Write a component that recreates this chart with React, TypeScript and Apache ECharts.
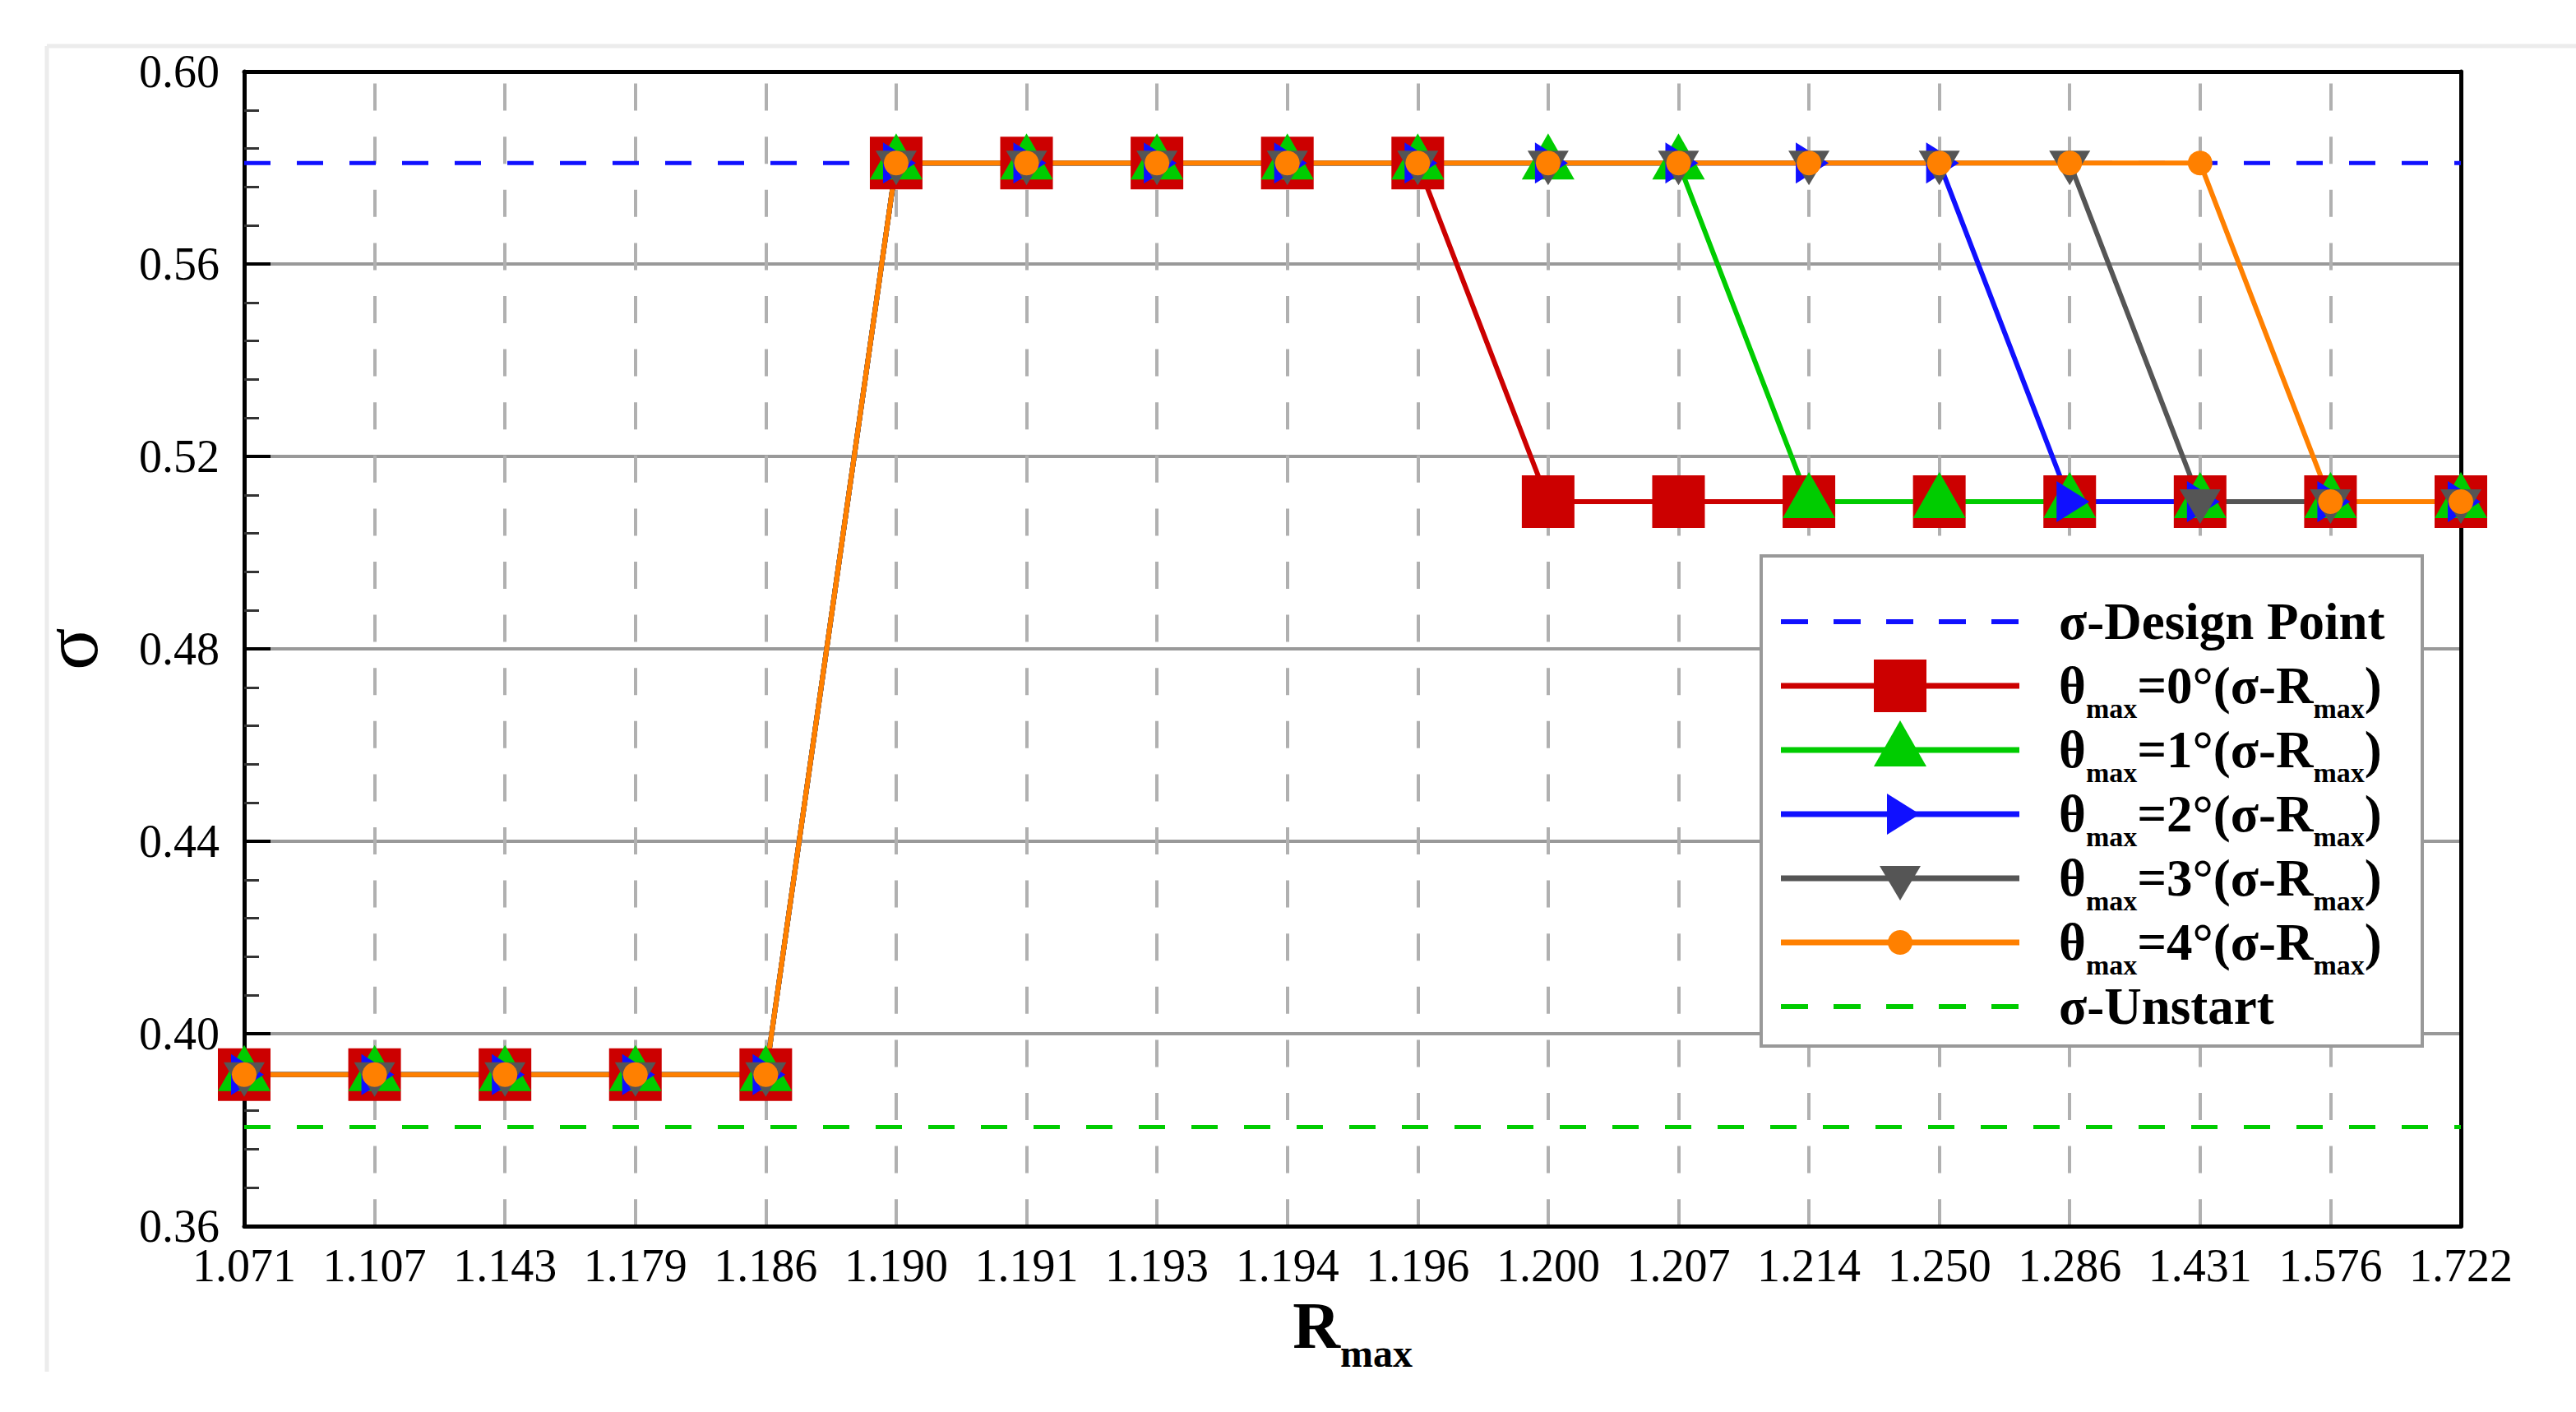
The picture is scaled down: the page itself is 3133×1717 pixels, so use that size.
import React, { useEffect, useRef } from "react";
import * as echarts from "echarts";

// ---------- data ----------
const categories = [
  "1.071", "1.107", "1.143", "1.179", "1.186", "1.190", "1.191", "1.193", "1.194",
  "1.196", "1.200", "1.207", "1.214", "1.250", "1.286", "1.431", "1.576", "1.722",
];

const theta0 = [0.3915, 0.3915, 0.3915, 0.3915, 0.3915, 0.581, 0.581, 0.581, 0.581, 0.581, 0.5106, 0.5106, 0.5106, 0.5106, 0.5106, 0.5106, 0.5106, 0.5106];
const theta1 = [0.3915, 0.3915, 0.3915, 0.3915, 0.3915, 0.581, 0.581, 0.581, 0.581, 0.581, 0.581, 0.581, 0.5106, 0.5106, 0.5106, 0.5106, 0.5106, 0.5106];
const theta2 = [0.3915, 0.3915, 0.3915, 0.3915, 0.3915, 0.581, 0.581, 0.581, 0.581, 0.581, 0.581, 0.581, 0.581, 0.581, 0.5106, 0.5106, 0.5106, 0.5106];
const theta3 = [0.3915, 0.3915, 0.3915, 0.3915, 0.3915, 0.581, 0.581, 0.581, 0.581, 0.581, 0.581, 0.581, 0.581, 0.581, 0.581, 0.5106, 0.5106, 0.5106];
const theta4 = [0.3915, 0.3915, 0.3915, 0.3915, 0.3915, 0.581, 0.581, 0.581, 0.581, 0.581, 0.581, 0.581, 0.581, 0.581, 0.581, 0.581, 0.5106, 0.5106];

// horizontal reference levels (constant across all categories)
const designPoint = [0.581, 0.581, 0.581, 0.581, 0.581, 0.581, 0.581, 0.581, 0.581, 0.581, 0.581, 0.581, 0.581, 0.581, 0.581, 0.581, 0.581, 0.581];
const unstart = [0.3806, 0.3806, 0.3806, 0.3806, 0.3806, 0.3806, 0.3806, 0.3806, 0.3806, 0.3806, 0.3806, 0.3806, 0.3806, 0.3806, 0.3806, 0.3806, 0.3806, 0.3806];

const yMin = 0.36;
const yMax = 0.6;
const yStep = 0.04;

const thetaDegrees = ["0", "1", "2", "3", "4"];

// ---------- names ----------
const NAME_DESIGN = "σ-Design Point";
const NAME_UNSTART = "σ-Unstart";
const thetaNames = thetaDegrees.map((d) => `θmax=${d}°(σ-Rmax)`);
const thetaData = [theta0, theta1, theta2, theta3, theta4];

// ---------- styles ----------
const FONT = "Liberation Serif";
const RED = "#cc0000";
const GREEN = "#00cc00";
const BLUE = "#1010ff";
const GRAY = "#555555";
const ORANGE = "#ff8000";

const thetaStyles = [
  { color: RED, symbol: "rect", size: [64, 64], rotate: 0, offset: [0, 0] },
  { color: GREEN, symbol: "triangle", size: [64, 56], rotate: 0, offset: [0, -8] },
  { color: BLUE, symbol: "triangle", size: [50, 40], rotate: -90, offset: [4, 0] },
  { color: GRAY, symbol: "triangle", size: [50, 42], rotate: 180, offset: [0, 6] },
  { color: ORANGE, symbol: "circle", size: [30, 30], rotate: 0, offset: [0, 0] },
];

const GRID = { left: 297, right: 140, top: 87, bottom: 226 };

// legend layout
const LEG_BOX = { x: 2142, y: 676, w: 804, h: 596 };
const LEG_X0 = 2166;
const LEG_X1 = 2456;
const LEG_CX = 2311;
const LEG_ROW0 = 756;
const LEG_STEP = 78;
const LEG_ITEM_H = 100;

function legendLabel(name: string): string {
  if (name.startsWith("θ")) {
    const deg = name.charAt(5);
    return `{t|θ}{s|max}{t|=${deg}°(σ-R}{s|max}{t|)}`;
  }
  return `{t|${name}}`;
}

function legendSample(i: number, kind: string, color: string, dashed: boolean): any[] {
  const cy = LEG_ROW0 + i * LEG_STEP;
  const els: any[] = [
    {
      type: "line",
      z: 6,
      shape: { x1: LEG_X0, y1: cy, x2: LEG_X1, y2: cy },
      style: { stroke: color, lineWidth: dashed ? 6 : 7, lineDash: dashed ? [33, 31] : null },
    },
  ];
  const cx = LEG_CX;
  if (kind === "rect") {
    els.push({ type: "rect", z: 7, shape: { x: cx - 32, y: cy - 32, width: 64, height: 64 }, style: { fill: color } });
  } else if (kind === "up") {
    els.push({ type: "polygon", z: 7, shape: { points: [[cx, cy - 36], [cx + 32, cy + 20], [cx - 32, cy + 20]] }, style: { fill: color } });
  } else if (kind === "right") {
    els.push({ type: "polygon", z: 7, shape: { points: [[cx + 24, cy], [cx - 16, cy - 25], [cx - 16, cy + 25]] }, style: { fill: color } });
  } else if (kind === "down") {
    els.push({ type: "polygon", z: 7, shape: { points: [[cx, cy + 27], [cx + 25, cy - 15], [cx - 25, cy - 15]] }, style: { fill: color } });
  } else if (kind === "circle") {
    els.push({ type: "circle", z: 7, shape: { cx, cy, r: 15 }, style: { fill: color } });
  }
  return els;
}

export default function App() {
  const ref = useRef<HTMLDivElement>(null);

  useEffect(() => {
    if (!ref.current) return;
    const chart = echarts.init(ref.current, null, { renderer: "svg" });

    const dashedSeries = (name: string, data: number[], color: string) => ({
      name,
      type: "line",
      data,
      z: 1,
      symbol: "none",
      silent: true,
      lineStyle: { color, width: 5, type: [32, 32] },
      itemStyle: { color },
      emphasis: { disabled: true },
    });

    const thetaSeries = thetaNames.map((name, i) => {
      const st = thetaStyles[i];
      return {
        name,
        type: "line",
        data: thetaData[i],
        z: 2,
        symbol: st.symbol,
        symbolSize: st.size,
        symbolRotate: st.rotate,
        symbolOffset: st.offset,
        showAllSymbol: true,
        lineStyle: { color: st.color, width: 6 },
        itemStyle: { color: st.color },
        emphasis: { disabled: true },
      };
    });

    const kinds = ["rect", "up", "right", "down", "circle"];
    const graphics: any[] = [
      // faint outer frame
      { type: "line", z: 0, shape: { x1: 57, y1: 56, x2: 3133, y2: 56 }, style: { stroke: "#ececec", lineWidth: 5 } },
      { type: "line", z: 0, shape: { x1: 57, y1: 56, x2: 57, y2: 1668 }, style: { stroke: "#ececec", lineWidth: 5 } },
      // legend box
      {
        type: "rect",
        z: 5,
        shape: { x: LEG_BOX.x, y: LEG_BOX.y, width: LEG_BOX.w, height: LEG_BOX.h },
        style: { fill: "#ffffff", stroke: "#999999", lineWidth: 4 },
      },
      ...legendSample(0, "none", BLUE, true),
      ...thetaStyles.flatMap((st, i) => legendSample(i + 1, kinds[i], st.color, false)),
      ...legendSample(6, "none", GREEN, true),
    ];

    const option: any = {
      animation: false,
      backgroundColor: "#ffffff",
      grid: { ...GRID, containLabel: false },
      xAxis: [
        {
          type: "category",
          data: categories,
          boundaryGap: false,
          z: 1,
          axisLine: { show: true, lineStyle: { color: "#000", width: 5 } },
          axisTick: { show: false },
          axisLabel: { interval: 0, margin: 20, color: "#000", fontFamily: FONT, fontSize: 56 },
          splitLine: {
            show: true,
            interval: (index: number) => index !== 0 && index !== categories.length - 1,
            lineStyle: { color: "#b0b0b0", width: 4, type: [33, 31.6], dashOffset: 50 },
          },
          name: "{r|R}{s|max}",
          nameLocation: "middle",
          nameGap: 72,
          nameTextStyle: {
            rich: {
              r: { fontFamily: FONT, fontSize: 80, fontWeight: "bold", lineHeight: 80, color: "#000" },
              s: {
                fontFamily: FONT,
                fontSize: 48,
                fontWeight: "bold",
                lineHeight: 80,
                verticalAlign: "top",
                padding: [50, 0, 0, 0],
                color: "#000",
              },
            },
          },
        },
        {
          type: "category",
          data: categories,
          boundaryGap: false,
          position: "top",
          z: 1,
          axisLine: { show: true, lineStyle: { color: "#000", width: 5 } },
          axisTick: { show: false },
          axisLabel: { show: false },
          splitLine: { show: false },
        },
      ],
      yAxis: [
        {
          type: "value",
          min: yMin,
          max: yMax,
          interval: yStep,
          z: 0,
          axisLine: { show: true, lineStyle: { color: "#000", width: 5 } },
          axisTick: { show: true, inside: true, length: 32, lineStyle: { color: "#000", width: 4 } },
          minorTick: { show: true, splitNumber: 5, length: 18, lineStyle: { color: "#333", width: 3 } },
          axisLabel: {
            margin: 30,
            color: "#000",
            fontFamily: FONT,
            fontSize: 56,
            formatter: (v: number) => v.toFixed(2),
          },
          splitLine: { show: true, lineStyle: { color: "#999999", width: 4 } },
          name: "σ",
          nameLocation: "middle",
          nameRotate: 90,
          nameGap: 164,
          nameTextStyle: { fontFamily: FONT, fontSize: 96, color: "#000" },
        },
        {
          type: "value",
          min: yMin,
          max: yMax,
          interval: yStep,
          position: "right",
          z: 1,
          axisLine: { show: true, lineStyle: { color: "#000", width: 5 } },
          axisTick: { show: false },
          axisLabel: { show: false },
          splitLine: { show: false },
        },
      ],
      legend: {
        show: true,
        orient: "vertical",
        left: LEG_X0,
        top: LEG_ROW0 - LEG_ITEM_H / 2,
        padding: 0,
        itemWidth: 333,
        itemHeight: LEG_ITEM_H,
        itemGap: LEG_STEP - LEG_ITEM_H,
        z: 6,
        icon: "rect",
        selectedMode: false,
        itemStyle: { color: "rgba(0,0,0,0)", borderWidth: 0, opacity: 0 },
        data: [NAME_DESIGN, ...thetaNames, NAME_UNSTART],
        formatter: (name: string) => legendLabel(name),
        textStyle: {
          color: "#000",
          fontFamily: FONT,
          fontSize: 63,
          fontWeight: "bold",
          rich: {
            t: { fontFamily: FONT, fontSize: 63, fontWeight: "bold", lineHeight: 58, color: "#000" },
            s: {
              fontFamily: FONT,
              fontSize: 34,
              fontWeight: "bold",
              lineHeight: 58,
              verticalAlign: "top",
              padding: [39, 0, 0, 0],
              color: "#000",
            },
          },
        },
      },
      graphic: graphics,
      series: [
        dashedSeries(NAME_DESIGN, designPoint, BLUE),
        dashedSeries(NAME_UNSTART, unstart, GREEN),
        ...thetaSeries,
      ],
    };

    chart.setOption(option);
    return () => chart.dispose();
  }, []);

  return (
    <div
      ref={ref}
      style={{ position: "fixed", left: 0, top: 0, width: 3133, height: 1717, background: "#fff" }}
    />
  );
}
